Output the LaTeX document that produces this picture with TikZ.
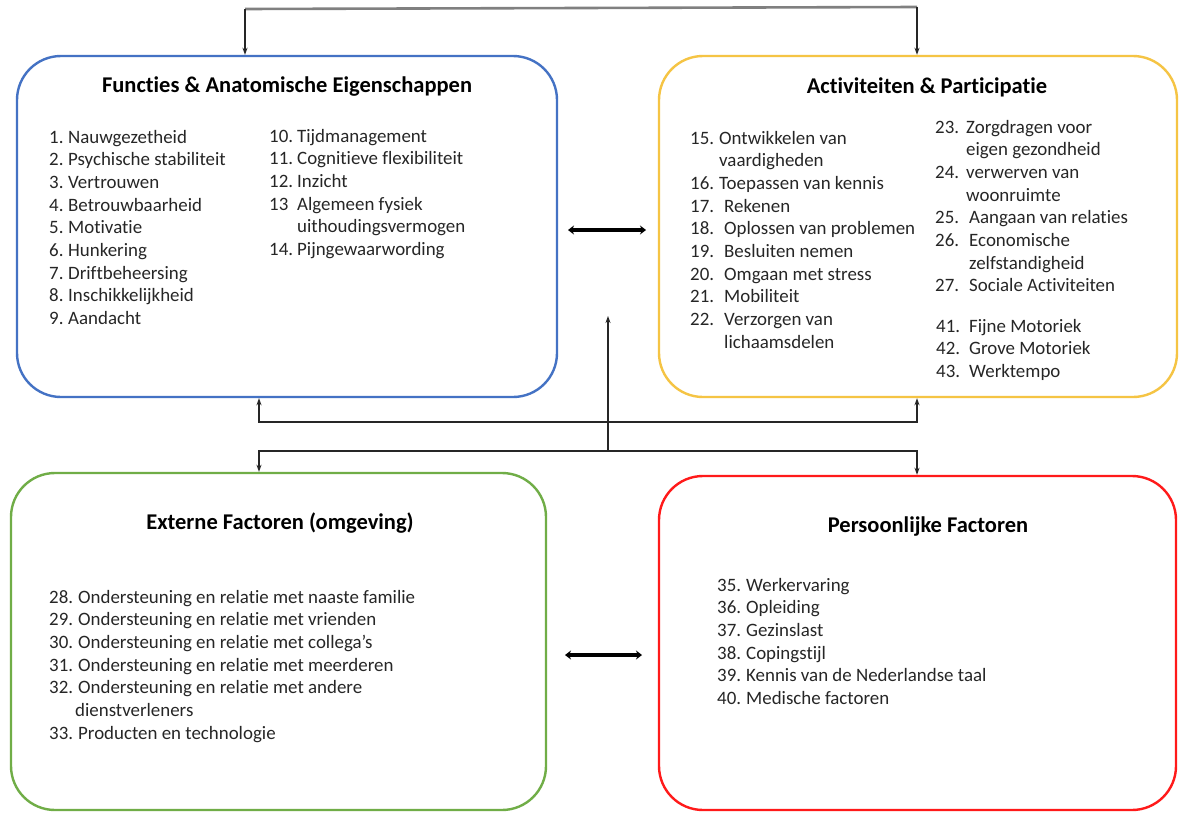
\documentclass[tikz,border=0pt]{standalone}
\usepackage{fontspec}
\setmainfont{Carlito}[Ligatures=NoCommon]
\usetikzlibrary{arrows.meta}
\definecolor{cblue}{HTML}{4472C4}
\definecolor{cyellow}{HTML}{F5C444}
\definecolor{cgreen}{HTML}{70AD47}
\definecolor{cred}{HTML}{FF1A1A}
\definecolor{ctext}{HTML}{262626}
\tikzset{
  box/.style={draw=#1, line width=2.4pt, rounded corners=44pt, inner sep=0pt, fill=white},
  ttl/.style={font=\bfseries\fontsize{22.5}{26}\selectfont, inner sep=0pt, text=black},
  lst/.style={anchor=base west, inner sep=0pt, text=ctext, font=\fontsize{18.9}{22.7}\selectfont},
  conn/.style={line width=1.2pt, draw=black!85},
  tip/.style={-{Stealth[length=7pt,width=5pt]}},
  dbl/.style={line width=3.6pt, {Stealth[length=6pt,width=9pt]}-{Stealth[length=6pt,width=9pt]}},
}
\begin{document}
\begin{tikzpicture}[x=1pt,y=-1pt]
\useasboundingbox (0,0) rectangle (1180,814);
\fill[white] (0,0) rectangle (1180,814);

% boxes
\node[box=cblue, minimum width=540pt, minimum height=341pt] (blue) at (287,226.5) {};
\node[box=cyellow, minimum width=518pt, minimum height=341pt] (yellow) at (918,226.5) {};
\node[box=cgreen, minimum width=535pt, minimum height=337pt] (green) at (278.5,641.5) {};
\node[box=cred, minimum width=517pt, minimum height=334pt] (red) at (917.5,643) {};

% titles
\node[ttl] (tb) at (287,87) {Functies \& Anatomische Eigenschappen};
\node[ttl] (ty) at (927,87) {Activiteiten \& Participatie};
\node[ttl] (tg) at (280,523) {Externe Factoren (omgeving)};
\node[ttl] (tr) at (928,526) {Persoonlijke Factoren};

% blue lists
\node[lst] (bl1) at (49,143) {\begin{tabular}[t]{@{}p{19pt}@{}l@{}}
1. & Nauwgezetheid\\
2. & Psychische stabiliteit\\
3. & Vertrouwen\\
4. & Betrouwbaarheid\\
5. & Motivatie\\
6. & Hunkering\\
7. & Driftbeheersing\\
8. & Inschikkelijkheid\\
9. & Aandacht
\end{tabular}};
\node[lst] (bl2) at (269,142) {\begin{tabular}[t]{@{}p{28pt}@{}l@{}}
10. & Tijdmanagement\\
11. & Cognitieve flexibiliteit\\
12. & Inzicht\\
13 & Algemeen fysiek\\
 & uithoudingsvermogen\\
14. & Pijngewaarwording
\end{tabular}};

% yellow lists
\node[lst] (yl1) at (690,144) {\begin{tabular}[t]{@{}p{34pt}@{}l@{}}
15. & \hspace{-5pt}Ontwikkelen van\\
 & \hspace{-5pt}vaardigheden\\
16. & \hspace{-5pt}Toepassen van kennis\\
17. & Rekenen\\
18. & Oplossen van problemen\\
19. & Besluiten nemen\\
20. & Omgaan met stress\\
21. & Mobiliteit\\
22. & Verzorgen van\\
 & lichaamsdelen
\end{tabular}};
\node[lst] (yl2) at (935,133) {\begin{tabular}[t]{@{}p{31pt}@{}l@{}}
23. & Zorgdragen voor\\
 & eigen gezondheid\\
24. & verwerven van\\
 & woonruimte\\
25. & \hspace{3pt}Aangaan van relaties\\
26. & \hspace{3pt}Economische\\
 & \hspace{3pt}zelfstandigheid\\
27. & \hspace{3pt}Sociale Activiteiten
\end{tabular}};
\node[lst] (yl3) at (936,332) {\begin{tabular}[t]{@{}p{33pt}@{}l@{}}
41. & Fijne Motoriek\\
42. & Grove Motoriek\\
43. & Werktempo
\end{tabular}};

% green list
\node[lst] (gl) at (49,603) {\begin{tabular}[t]{@{}p{29pt}@{}l@{}}
28. & Ondersteuning en relatie met naaste familie\\
29. & Ondersteuning en relatie met vrienden\\
30. & Ondersteuning en relatie met collega’s\\
31. & Ondersteuning en relatie met meerderen\\
32. & Ondersteuning en relatie met andere\\
 & \hspace{-3pt}dienstverleners\\
33. & Producten en technologie
\end{tabular}};

% red list
\node[lst] (rl) at (717,591) {\begin{tabular}[t]{@{}p{29pt}@{}l@{}}
35. & Werkervaring\\
36. & Opleiding\\
37. & Gezinslast\\
38. & Copingstijl\\
39. & Kennis van de Nederlandse taal\\
40. & Medische factoren
\end{tabular}};

% top connector
\coordinate (t1) at (245,9);
\coordinate (t2) at (917,7);
\draw[line width=2.6pt, draw=black!50] (t1) -- (t2);
\draw[conn, tip] (t1) -- (blue.north -| t1);
\draw[conn, tip] (t2) -- (yellow.north -| t2);

% middle connectors
\coordinate (m1) at (259,422);
\coordinate (m2) at (917,422);
\draw[conn, {Stealth[length=7pt,width=5pt]}-{Stealth[length=7pt,width=5pt]}] (blue.south -| m1) -- (m1) -- (m2) -- (yellow.south -| m2);
\coordinate (n1) at (259,451);
\coordinate (n2) at (917,451);
\draw[conn, {Stealth[length=7pt,width=5pt]}-{Stealth[length=7pt,width=5pt]}] (green.north -| n1) -- (n1) -- (n2) -- (red.north -| n2);
\coordinate (c0) at (608,451);
\coordinate (c1) at (608,316);
\draw[conn, tip] (c0) -- (c1);

% double arrows
\coordinate (d1) at (568,230);
\coordinate (d2) at (646,230);
\draw[dbl] (d1) -- (d2);
\coordinate (e1) at (565,655);
\coordinate (e2) at (642,655);
\draw[dbl] (e1) -- (e2);
\end{tikzpicture}
\end{document}
